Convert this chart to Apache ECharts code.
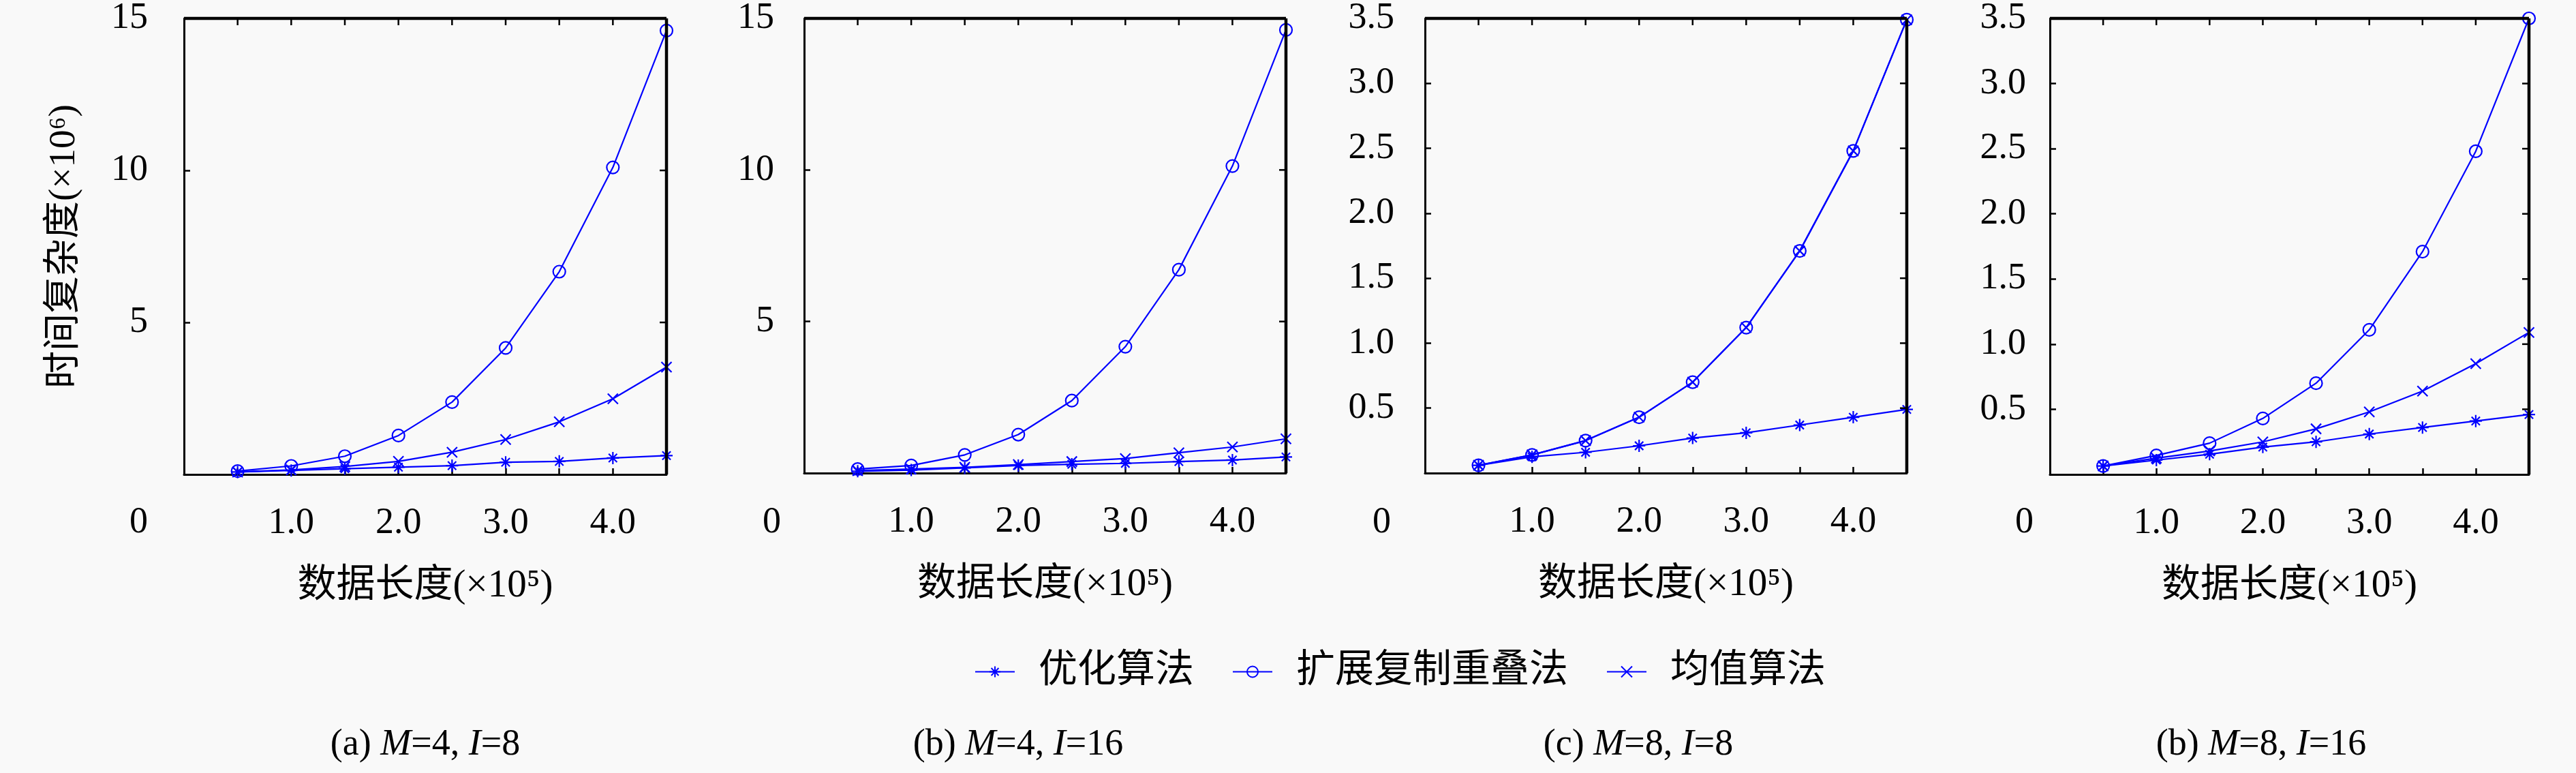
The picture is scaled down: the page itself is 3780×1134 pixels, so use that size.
<!DOCTYPE html>
<html>
<head>
<meta charset="utf-8">
<script src="https://cdn.jsdelivr.net/npm/echarts@6/dist/echarts.min.js"></script>
<style>
  html, body { margin: 0; padding: 0; background: #f9f9f9; }
  #chart { width: 3780px; height: 1134px; }
</style>
</head>
<body>
<div id="chart"></div>
<script>
// data length (x10^5)
const xValues = [0.5, 1.0, 1.5, 2.0, 2.5, 3.0, 3.5, 4.0, 4.5];
const seriesNames = ['优化算法', '扩展复制重叠法', '均值算法'];

// (a) M=4, I=8
const optA = [0.08, 0.13, 0.19, 0.24, 0.29, 0.40, 0.43, 0.54, 0.62];
const extA = [0.11, 0.28, 0.60, 1.28, 2.38, 4.16, 6.67, 10.10, 14.60];
const meanA = [0.08, 0.15, 0.26, 0.43, 0.73, 1.15, 1.73, 2.49, 3.53];
// (b) M=4, I=16
const optB = [0.06, 0.10, 0.17, 0.25, 0.29, 0.32, 0.38, 0.43, 0.53];
const extB = [0.13, 0.25, 0.60, 1.27, 2.39, 4.17, 6.71, 10.13, 14.62];
const meanB = [0.08, 0.13, 0.19, 0.28, 0.38, 0.48, 0.67, 0.86, 1.13];
// (c) M=8, I=8
const optC = [0.06, 0.125, 0.16, 0.21, 0.27, 0.31, 0.37, 0.43, 0.49];
const extC = [0.06, 0.14, 0.25, 0.43, 0.70, 1.12, 1.71, 2.48, 3.49];
const meanC = [0.06, 0.14, 0.25, 0.43, 0.70, 1.12, 1.71, 2.48, 3.49];
// (d) M=8, I=16
const optD = [0.065, 0.11, 0.155, 0.21, 0.25, 0.31, 0.36, 0.41, 0.46];
const extD = [0.065, 0.146, 0.24, 0.43, 0.70, 1.11, 1.71, 2.48, 3.50];
const meanD = [0.065, 0.125, 0.18, 0.25, 0.35, 0.48, 0.64, 0.85, 1.09];

const panelData = [
  [optA, extA, meanA],
  [optB, extB, meanB],
  [optC, extC, meanC],
  [optD, extD, meanD]
];
const yMaxes = [15, 15, 3.5, 3.5];
const yIntervals = [5, 5, 0.5, 0.5];
const xMax = 4.5;
const xInterval = 0.5;
const captions = [
  '(a) {i|M}=4, {i|I}=8',
  '(b) {i|M}=4, {i|I}=16',
  '(c) {i|M}=8, {i|I}=8',
  '(b) {i|M}=8, {i|I}=16'
];

// layout
const panels = [
  { left: 270, top: 21, width: 708, labelMargin: 53, zeroX: 204, capX: 624 },
  { left: 1180, top: 19, width: 707, labelMargin: 44, zeroX: 1133, capX: 1494 },
  { left: 2091, top: 19, width: 707, labelMargin: 45, zeroX: 2028, capX: 2404 },
  { left: 3008, top: 21, width: 703, labelMargin: 35, zeroX: 2971, capX: 3318 }
];
const plotHeight = 675;

const BLUE = '#0000ff';
const FONT = "'Liberation Serif', 'Noto Sans CJK SC', serif";

const symX = 'path://M0,0L10,10M10,0L0,10';
const symStar = 'path://M5,0L5,10M0,5L10,5M1.6,1.6L8.4,8.4M8.4,1.6L1.6,8.4';

const chart = echarts.init(document.getElementById('chart'));

const grid = [], xAxis = [], yAxis = [], series = [], graphic = [];

function axisLine() {
  return { show: true, onZero: false, lineStyle: { color: '#000', width: 3 } };
}
function axisTick() {
  return { show: true, inside: true, length: 9, lineStyle: { color: '#000', width: 2.5 } };
}

panels.forEach(function (p, i) {
  grid.push({ left: p.left, top: p.top, width: p.width, height: plotHeight });
  xAxis.push({
    type: 'value', gridIndex: i, position: 'bottom', min: 0, max: xMax, interval: xInterval,
    axisLine: axisLine(), axisTick: axisTick(), splitLine: { show: false },
    axisLabel: {
      margin: 45, fontFamily: FONT, fontSize: 54, color: '#000',
      formatter: function (v) { return (v > 0 && Math.abs(v - Math.round(v)) < 1e-6) ? v.toFixed(1) : ''; }
    },
    name: '数据长度(×10⁵)', nameLocation: 'middle', nameGap: 136,
    nameTextStyle: { fontFamily: FONT, fontSize: 57, color: '#000' }
  });
  const yMain = {
    type: 'value', gridIndex: i, position: 'left', min: 0, max: yMaxes[i], interval: yIntervals[i],
    axisLine: axisLine(), axisTick: axisTick(), splitLine: { show: false },
    axisLabel: {
      margin: p.labelMargin, fontFamily: FONT, fontSize: 54, color: '#000',
      formatter: function (v) {
        if (v === 0) return '';
        return yIntervals[i] >= 1 ? String(v) : v.toFixed(1);
      }
    }
  };
  if (i === 0) {
    yMain.name = '时间复杂度(×10⁶)';
    yMain.nameLocation = 'middle';
    yMain.nameGap = 148;
    yMain.nameTextStyle = { fontFamily: FONT, fontSize: 55, color: '#000' };
  }
  yAxis.push(yMain);

  const d = panelData[i];
  const symbols = [symStar, 'circle', symX];
  const sizes = [18, 18, 15];
  d.forEach(function (vals, k) {
    series.push({
      name: seriesNames[k],
      type: 'line',
      xAxisIndex: i,
      yAxisIndex: i,
      data: xValues.map(function (x, j) { return [x, vals[j]]; }),
      symbol: symbols[k],
      symbolSize: sizes[k],
      showAllSymbol: true,
      color: BLUE,
      lineStyle: { color: BLUE, width: 2.2 },
      itemStyle: {
        color: k === 1 ? 'rgba(0,0,0,0)' : BLUE,
        borderColor: BLUE,
        borderWidth: 2.2
      },
      z: 3 - k,
      animation: false
    });
  });

  // displaced zero label and panel caption
  graphic.push({
    type: 'text', left: p.zeroX - 14, top: 740,
    style: { text: '0', font: '54px ' + FONT, fill: '#000' }
  });
  graphic.push({
    type: 'text', x: p.capX, y: 1093,
    style: {
      text: captions[i], fill: '#000', align: 'center', verticalAlign: 'middle',
      font: '54px ' + FONT,
      rich: { i: { fontStyle: 'italic', fontFamily: FONT, fontSize: 54 } }
    }
  });
});

chart.setOption({
  backgroundColor: '#f9f9f9',
  animation: false,
  grid: grid,
  xAxis: xAxis,
  yAxis: yAxis,
  legend: {
    data: seriesNames,
    left: 1425,
    top: 952,
    itemWidth: 58,
    itemHeight: 20,
    itemGap: 56,
    textStyle: { fontFamily: FONT, fontSize: 57, color: '#000', padding: [0, 0, 0, 30] }
  },
  series: series,
  graphic: graphic
});

// top and right frame lines with inward ticks, placed through the axes' own scales
const frame = [];
panels.forEach(function (p, i) {
  const finder = { xAxisIndex: i, yAxisIndex: i };
  const tl = chart.convertToPixel(finder, [0, yMaxes[i]]);
  const br = chart.convertToPixel(finder, [xMax, 0]);
  frame.push({ type: 'line', silent: true, z: 10, shape: { x1: tl[0], y1: tl[1], x2: br[0], y2: tl[1] }, style: { stroke: '#000', lineWidth: 4.5 } });
  frame.push({ type: 'line', silent: true, z: 10, shape: { x1: br[0], y1: tl[1], x2: br[0], y2: br[1] }, style: { stroke: '#000', lineWidth: 4.5 } });
  for (let v = xInterval; v < xMax - 1e-6; v += xInterval) {
    const px = chart.convertToPixel(finder, [v, 0])[0];
    frame.push({ type: 'line', silent: true, z: 10, shape: { x1: px, y1: tl[1], x2: px, y2: tl[1] + 10 }, style: { stroke: '#000', lineWidth: 2.5 } });
  }
  for (let v = yIntervals[i]; v < yMaxes[i] - 1e-6; v += yIntervals[i]) {
    const py = chart.convertToPixel(finder, [0, v])[1];
    frame.push({ type: 'line', silent: true, z: 10, shape: { x1: br[0], y1: py, x2: br[0] - 10, y2: py }, style: { stroke: '#000', lineWidth: 2.5 } });
  }
});
chart.setOption({ graphic: graphic.concat(frame) });
</script>
</body>
</html>
